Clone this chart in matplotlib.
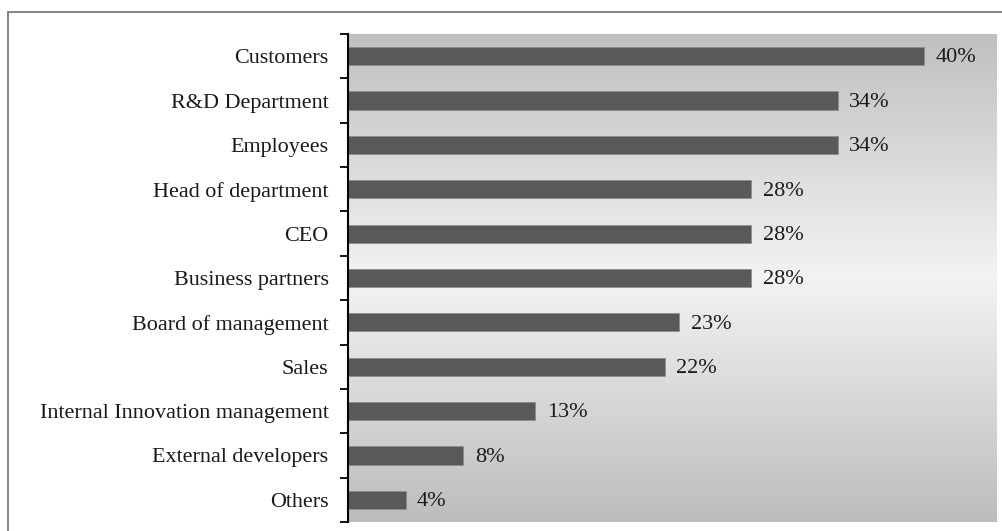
import matplotlib.pyplot as plt
import numpy as np
from matplotlib.patches import Rectangle
from matplotlib.colors import LinearSegmentedColormap

# data (top to bottom as shown)
categories = ['Customers', 'R&D Department', 'Employees', 'Head of department', 'CEO',
              'Business partners', 'Board of management', 'Sales',
              'Internal Innovation management', 'External developers', 'Others']
values = [40, 34, 34, 28, 28, 28, 23, 22, 13, 8, 4]

plt.rcParams['font.family'] = ['Liberation Serif', 'DejaVu Serif']

W, H = 1002, 531
fig = plt.figure(figsize=(W / 100, H / 100), dpi=100)
ax = fig.add_axes([348 / W, 1 - 522 / H, (996 - 348) / W, (522 - 34) / H])

# outer frame
fig.add_artist(Rectangle((8 / W, -0.05), 1.1, 1 - 12 / H + 0.05, transform=fig.transFigure,
                         fill=False, edgecolor='#7a7a7a', linewidth=1.3))

# background gradient (grey - light - grey, top to bottom)
grad = LinearSegmentedColormap.from_list('bg', ['#bfbfbf', '#f3f3f3', '#bcbcbc'])
ax.imshow(np.linspace(0, 1, 256).reshape(-1, 1), cmap=grad, aspect='auto',
          extent=[0, 45, 10.55, -0.55], zorder=0)

y = np.arange(len(categories))
ax.barh(y, values, height=0.41, color='#595959', edgecolor='#8a8a8a', linewidth=0.5, zorder=2)
for yi, v in zip(y, values):
    ax.text(v + 0.8, yi + 0.04, f'{v}%', va='center', ha='left', fontsize=16, color='#1a1a1a')

ax.set_xlim(0, 45)
ax.set_ylim(10.5, -0.5)
ax.set_xticks([])
ax.set_yticks(y)
ax.set_yticklabels(categories, fontsize=15.9, color='#1a1a1a')
ax.set_yticks(np.arange(-0.5, 11, 1), minor=True)
ax.tick_params(axis='y', which='major', length=0, pad=14)
ax.tick_params(axis='y', which='minor', length=6, width=1.3, color='black')
for s in ['top', 'right', 'bottom']:
    ax.spines[s].set_visible(False)
ax.spines['left'].set_linewidth(1.5)
ax.spines['left'].set_color('black')

fig.savefig('out.png', dpi=100)
